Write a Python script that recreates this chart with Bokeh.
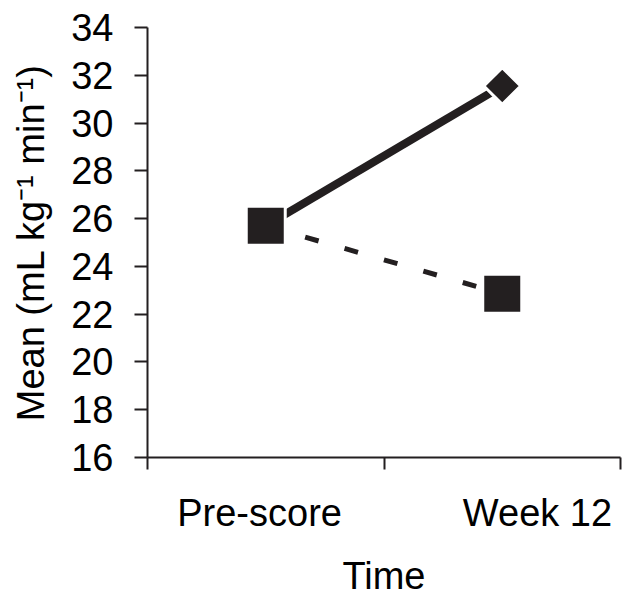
from bokeh.plotting import figure
from bokeh.models import FixedTicker, Range1d
from bokeh.embed import file_html
from bokeh.resources import INLINE
import math

# ---- data ----
times = ["Pre-score", "Week 12"]
solid_group = [25.7, 31.55]    # solid line, diamond markers
dashed_group = [25.7, 22.85]   # dashed line, square markers
y_ticks = [16, 18, 20, 22, 24, 26, 28, 30, 32, 34]

# ---- layout constants ----
INK = "#231f20"
FONT = "Liberation Sans"
FS = "38px"
label_pos = [0.474, 1.649]      # where category labels are centred on the axis

xs = [i + 0.5 for i in range(len(times))]

p = figure(width=622, height=599, output_backend="svg", toolbar_location=None,
           x_range=Range1d(0, len(times)), y_range=Range1d(16, 34))
p.min_border_left = 147
p.min_border_top = 27
p.min_border_right = 2
p.min_border_bottom = 130
p.outline_line_color = None
p.grid.visible = False
p.background_fill_color = "white"
p.border_fill_color = "white"

# lines
p.line(xs, solid_group, line_color=INK, line_width=8)
p.line(xs, dashed_group, line_color=INK, line_width=5, line_dash="14 27")

# markers
p.scatter(xs, solid_group, marker="square", angle=math.pi / 4, size=26,
          fill_color=INK, line_color="white", line_width=3)
p.scatter(xs, dashed_group, marker="square", size=39,
          fill_color=INK, line_color="white", line_width=3)

# y axis
ya = p.yaxis[0]
ya.ticker = FixedTicker(ticks=y_ticks)
ya.minor_tick_line_color = None
ya.major_tick_in = 0
ya.major_tick_out = 13
ya.axis_line_width = 2
ya.major_tick_line_width = 2
ya.axis_line_color = INK
ya.major_tick_line_color = INK
ya.major_label_text_font = FONT
ya.major_label_text_font_size = FS
ya.major_label_text_color = "black"
ya.major_label_standoff = 21
ya.axis_label = "Mean (mL kg\u207b\u00b9 min\u207b\u00b9)"
ya.axis_label_text_font = FONT
ya.axis_label_text_font_size = FS
ya.axis_label_text_font_style = "normal"
ya.axis_label_text_color = "black"
ya.axis_label_standoff = 16

# x axis
xa = p.xaxis[0]
xa.ticker = FixedTicker(ticks=label_pos, minor_ticks=list(range(len(times) + 1)))
xa.major_label_overrides = {label_pos[i]: t for i, t in enumerate(times)}
xa.major_tick_line_color = None
xa.major_tick_in = 0
xa.major_tick_out = 0
xa.minor_tick_in = 0
xa.minor_tick_out = 12
xa.minor_tick_line_width = 2
xa.minor_tick_line_color = INK
xa.axis_line_width = 2
xa.axis_line_color = INK
xa.major_label_text_font = FONT
xa.major_label_text_font_size = FS
xa.major_label_text_color = "black"
xa.major_label_standoff = 22
xa.axis_label = "Time"
xa.axis_label_text_font = FONT
xa.axis_label_text_font_size = FS
xa.axis_label_text_font_style = "normal"
xa.axis_label_text_color = "black"
xa.axis_label_standoff = 18

open("out.html", "w").write(file_html(p, INLINE))
